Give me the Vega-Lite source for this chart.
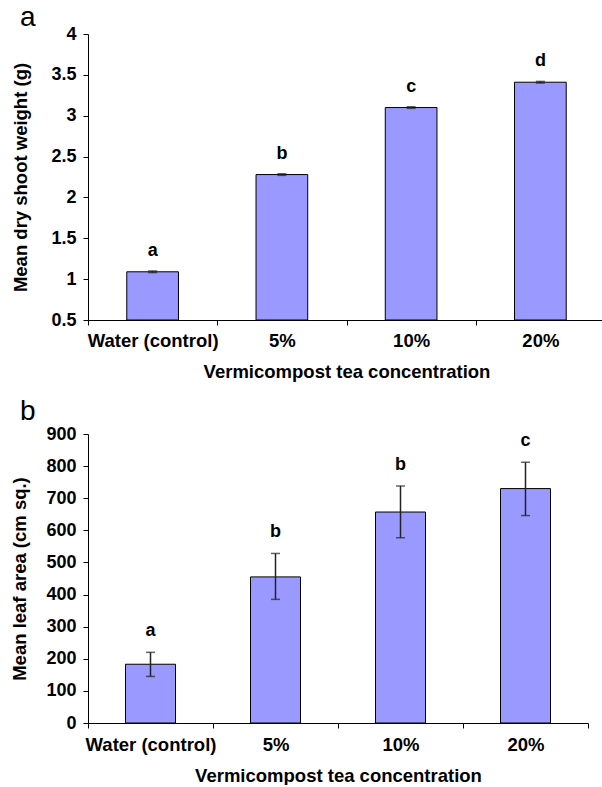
{
  "$schema": "https://vega.github.io/schema/vega-lite/v6.json",
  "padding": {"left": 10, "top": 4, "right": 0, "bottom": 0},
  "background": "white",
  "config": {
    "font": "Liberation Sans",
    "view": {"stroke": null},
    "concat": {"spacing": 17},
    "axis": {
      "domainColor": "black",
      "tickColor": "black",
      "labelColor": "black",
      "titleColor": "black",
      "labelFont": "Liberation Sans",
      "titleFont": "Liberation Sans",
      "labelFontWeight": "bold",
      "titleFontWeight": "bold",
      "labelOverlap": false,
      "grid": false,
      "tickSize": 5
    }
  },
  "datasets": {
    "shoot": [
      {"treatment": "Water (control)", "mean": 1.09, "lo": 1.08, "hi": 1.10, "letter": "a"},
      {"treatment": "5%", "mean": 2.28, "lo": 2.27, "hi": 2.29, "letter": "b"},
      {"treatment": "10%", "mean": 3.10, "lo": 3.09, "hi": 3.11, "letter": "c"},
      {"treatment": "20%", "mean": 3.41, "lo": 3.40, "hi": 3.42, "letter": "d"}
    ],
    "leaf": [
      {"treatment": "Water (control)", "mean": 183, "lo": 145, "hi": 220, "letter": "a"},
      {"treatment": "5%", "mean": 455, "lo": 385, "hi": 528, "letter": "b"},
      {"treatment": "10%", "mean": 657, "lo": 577, "hi": 738, "letter": "b"},
      {"treatment": "20%", "mean": 730, "lo": 646, "hi": 812, "letter": "c"}
    ]
  },
  "vconcat": [
    {
      "width": 517,
      "height": 286,
      "data": {"name": "shoot"},
      "title": {"text": "a", "anchor": "start", "frame": "group", "fontSize": 28, "fontWeight": "normal", "baseline": "alphabetic", "offset": -29, "dx": -68, "color": "black", "font": "Liberation Sans"},
      "encoding": {
        "x": {
          "field": "treatment", "type": "nominal", "sort": null,
          "scale": {"paddingInner": 0, "paddingOuter": 0},
          "axis": {"title": "Vermicompost tea concentration", "labelAngle": 0, "tickBand": "extent", "labelFontSize": 18.5, "titleFontSize": 18.5, "labelPadding": 6, "titlePadding": 12.5}
        }
      },
      "layer": [
        {
          "mark": {"type": "bar", "width": {"band": 0.4}, "fill": "#9999FF", "stroke": "black", "strokeWidth": 1},
          "encoding": {
            "y": {"field": "mean", "type": "quantitative", "title": "Mean dry shoot weight (g)",
              "scale": {"domain": [0.5, 4], "zero": false, "nice": false},
              "axis": {"values": [0.5, 1, 1.5, 2, 2.5, 3, 3.5, 4], "format": "~g", "labelFontSize": 18, "titleFontSize": 18.5, "labelPadding": 7, "titlePadding": 20}},
            "y2": {"datum": 0.5}
          }
        },
        {
          "mark": {"type": "rule", "color": "#222222", "strokeWidth": 1.5},
          "encoding": {"y": {"field": "lo", "type": "quantitative", "title": "Mean dry shoot weight (g)", "axis": {"values": [0.5, 1, 1.5, 2, 2.5, 3, 3.5, 4], "format": "~g", "labelFontSize": 18, "titleFontSize": 18.5, "labelPadding": 7, "titlePadding": 20}}, "y2": {"field": "hi"}}
        },
        {
          "mark": {"type": "tick", "color": "#222222", "size": 9, "thickness": 1.5},
          "encoding": {"y": {"field": "lo", "type": "quantitative", "title": "Mean dry shoot weight (g)", "axis": {"values": [0.5, 1, 1.5, 2, 2.5, 3, 3.5, 4], "format": "~g", "labelFontSize": 18, "titleFontSize": 18.5, "labelPadding": 7, "titlePadding": 20}}}
        },
        {
          "mark": {"type": "tick", "color": "#222222", "size": 9, "thickness": 1.5},
          "encoding": {"y": {"field": "hi", "type": "quantitative", "title": "Mean dry shoot weight (g)", "axis": {"values": [0.5, 1, 1.5, 2, 2.5, 3, 3.5, 4], "format": "~g", "labelFontSize": 18, "titleFontSize": 18.5, "labelPadding": 7, "titlePadding": 20}}}
        },
        {
          "mark": {"type": "text", "dy": -20, "fontWeight": "bold", "fontSize": 18, "color": "black", "font": "Liberation Sans"},
          "encoding": {"y": {"field": "hi", "type": "quantitative", "title": "Mean dry shoot weight (g)", "axis": {"values": [0.5, 1, 1.5, 2, 2.5, 3, 3.5, 4], "format": "~g", "labelFontSize": 18, "titleFontSize": 18.5, "labelPadding": 7, "titlePadding": 20}}, "text": {"field": "letter"}}
        }
      ]
    },
    {
      "width": 500,
      "height": 289,
      "data": {"name": "leaf"},
      "title": {"text": "b", "anchor": "start", "frame": "group", "fontSize": 28, "fontWeight": "normal", "baseline": "alphabetic", "offset": -23, "dx": -68, "color": "black", "font": "Liberation Sans"},
      "encoding": {
        "x": {
          "field": "treatment", "type": "nominal", "sort": null,
          "scale": {"paddingInner": 0, "paddingOuter": 0},
          "axis": {"title": "Vermicompost tea concentration", "labelAngle": 0, "tickBand": "extent", "labelFontSize": 18.5, "titleFontSize": 18.5, "labelPadding": 7, "titlePadding": 13}
        }
      },
      "layer": [
        {
          "mark": {"type": "bar", "width": {"band": 0.4}, "fill": "#9999FF", "stroke": "black", "strokeWidth": 1},
          "encoding": {
            "y": {"field": "mean", "type": "quantitative", "title": "Mean leaf area (cm sq.)",
              "scale": {"domain": [0, 900], "nice": false},
              "axis": {"values": [0, 100, 200, 300, 400, 500, 600, 700, 800, 900], "format": "d", "labelFontSize": 18, "titleFontSize": 18.5, "labelPadding": 7, "titlePadding": 16}}
          }
        },
        {
          "mark": {"type": "rule", "color": "#222222", "strokeWidth": 1.5},
          "encoding": {"y": {"field": "lo", "type": "quantitative", "title": "Mean leaf area (cm sq.)", "axis": {"values": [0, 100, 200, 300, 400, 500, 600, 700, 800, 900], "format": "d", "labelFontSize": 18, "titleFontSize": 18.5, "labelPadding": 7, "titlePadding": 16}}, "y2": {"field": "hi"}}
        },
        {
          "mark": {"type": "tick", "color": "#222222", "size": 9, "thickness": 1.5},
          "encoding": {"y": {"field": "lo", "type": "quantitative", "title": "Mean leaf area (cm sq.)", "axis": {"values": [0, 100, 200, 300, 400, 500, 600, 700, 800, 900], "format": "d", "labelFontSize": 18, "titleFontSize": 18.5, "labelPadding": 7, "titlePadding": 16}}}
        },
        {
          "mark": {"type": "tick", "color": "#222222", "size": 9, "thickness": 1.5},
          "encoding": {"y": {"field": "hi", "type": "quantitative", "title": "Mean leaf area (cm sq.)", "axis": {"values": [0, 100, 200, 300, 400, 500, 600, 700, 800, 900], "format": "d", "labelFontSize": 18, "titleFontSize": 18.5, "labelPadding": 7, "titlePadding": 16}}}
        },
        {
          "mark": {"type": "text", "dy": -21, "fontWeight": "bold", "fontSize": 18, "color": "black", "font": "Liberation Sans"},
          "encoding": {"y": {"field": "hi", "type": "quantitative", "title": "Mean leaf area (cm sq.)", "axis": {"values": [0, 100, 200, 300, 400, 500, 600, 700, 800, 900], "format": "d", "labelFontSize": 18, "titleFontSize": 18.5, "labelPadding": 7, "titlePadding": 16}}, "text": {"field": "letter"}}
        }
      ]
    }
  ]
}
